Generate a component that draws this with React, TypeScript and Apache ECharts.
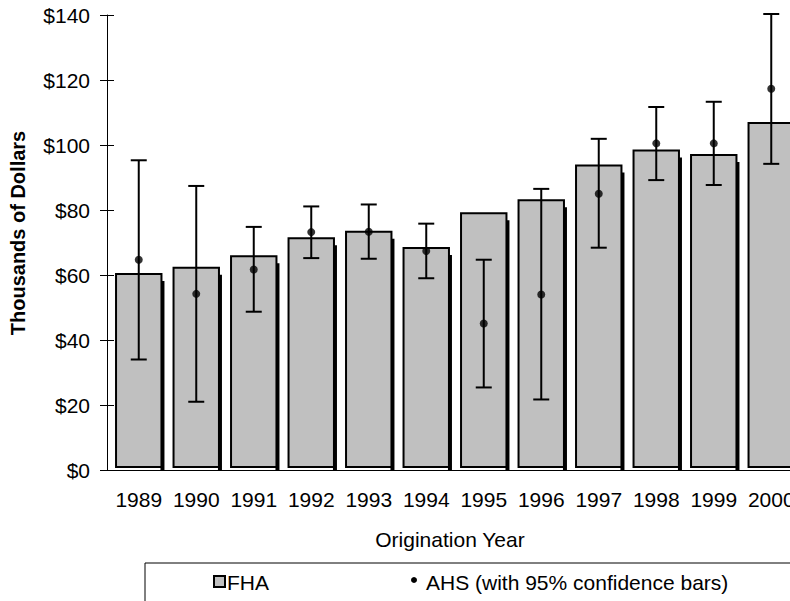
import React, { useEffect, useRef } from "react";
import * as echarts from "echarts";

const years = ["1989", "1990", "1991", "1992", "1993", "1994", "1995", "1996", "1997", "1998", "1999", "2000"];
const fhaValues = [60.3, 62.2, 65.8, 71.3, 73.3, 68.3, 79.0, 83.0, 93.7, 98.3, 96.9, 106.8];
const ahsValues = [64.7, 54.2, 61.7, 73.2, 73.3, 67.4, 45.1, 54.0, 85.0, 100.5, 100.5, 117.3];
const ahsLower = [34.0, 21.0, 48.7, 65.2, 65.0, 59.0, 25.4, 21.7, 68.4, 89.2, 87.7, 94.2];
const ahsUpper = [95.3, 87.4, 74.8, 81.1, 81.7, 75.8, 64.7, 86.5, 101.9, 111.7, 113.3, 140.3];
const yMin = 0;
const yMax = 140;
const yStep = 20;

const FONT = "'Liberation Sans', Arial, sans-serif";
const FS = 21;

export default function App() {
  const ref = useRef<HTMLDivElement>(null);
  useEffect(() => {
    if (!ref.current) return;
    const chart = echarts.init(ref.current, null, { renderer: "svg" });
    const barData = fhaValues.map((v, i) => [i, v]);
    const errData = years.map((_, i) => [i, ahsLower[i], ahsUpper[i]]);
    const ptData = ahsValues.map((v, i) => [i, v]);
    chart.setOption({
      animation: false,
      textStyle: { fontFamily: FONT },
      grid: { left: 110, width: 690, top: 15, height: 455, containLabel: false, outerBoundsMode: "none" },
      xAxis: {
        type: "category",
        data: years,
        axisLine: { lineStyle: { color: "#000", width: 1 } },
        axisTick: { show: false },
        axisLabel: { color: "#000", fontSize: FS, margin: 19, interval: 0, fontFamily: FONT, hideOverlap: false },
      },
      yAxis: [
        {
          type: "value",
          min: yMin,
          max: yMax,
          interval: yStep,
          offset: 3,
          axisLine: { show: true, lineStyle: { color: "#000", width: 1 } },
          axisTick: { show: true, length: 7, lineStyle: { color: "#000" } },
          axisLabel: { color: "#000", fontSize: FS, margin: 17, formatter: "${value}", fontFamily: FONT },
          splitLine: { show: false },
        },
        {
          type: "value",
          position: "left",
          min: yMin,
          max: yMax,
          interval: yStep,
          offset: 3,
          axisLine: { show: false },
          axisTick: { show: true, inside: true, length: 7, lineStyle: { color: "#000" } },
          axisLabel: { show: false },
          splitLine: { show: false },
        },
      ],
      series: [
        {
          name: "FHA",
          type: "custom",
          data: barData,
          clip: false,
          renderItem: (params: any, api: any) => {
            const idx = api.value(0);
            const base = api.coord([idx, 0]);
            const top = api.coord([idx, api.value(1)]);
            const w = api.size([1, 0])[0] * 0.79;
            const x = top[0] - w / 2;
            return {
              type: "group",
              children: [
                {
                  type: "rect",
                  shape: { x: x + w - 1, y: top[1] + 7, width: 4, height: base[1] - top[1] - 7 },
                  style: { fill: "#000" },
                },
                {
                  type: "rect",
                  shape: { x: x, y: top[1], width: w, height: base[1] - top[1] - 3 },
                  style: { fill: "#C0C0C0", stroke: "#000", lineWidth: 2 },
                },
              ],
            };
          },
        },
        {
          name: "AHS",
          type: "custom",
          data: errData,
          clip: false,
          renderItem: (params: any, api: any) => {
            const idx = api.value(0);
            const lo = api.coord([idx, api.value(1)]);
            const hi = api.coord([idx, api.value(2)]);
            const hw = 8;
            const st = { stroke: "#000", lineWidth: 2 };
            return {
              type: "group",
              children: [
                { type: "line", shape: { x1: lo[0], y1: lo[1], x2: hi[0], y2: hi[1] }, style: st },
                { type: "line", shape: { x1: hi[0] - hw, y1: hi[1], x2: hi[0] + hw, y2: hi[1] }, style: st },
                { type: "line", shape: { x1: lo[0] - hw, y1: lo[1], x2: lo[0] + hw, y2: lo[1] }, style: st },
              ],
            };
          },
        },
        {
          name: "AHS point",
          type: "scatter",
          data: ptData,
          symbol: "circle",
          symbolSize: 8,
          itemStyle: { color: "#000" },
          z: 5,
        },
      ],
      graphic: [
        {
          type: "text",
          x: 18,
          y: 233,
          rotation: Math.PI / 2,
          style: {
            text: "Thousands of Dollars",
            fontSize: 20,
            fontWeight: "bold",
            fontFamily: FONT,
            fill: "#000",
            align: "center",
            verticalAlign: "middle",
          },
        },
        {
          type: "text",
          x: 450,
          y: 539,
          style: {
            text: "Origination Year",
            fontSize: FS,
            fontFamily: FONT,
            fill: "#000",
            align: "center",
            verticalAlign: "middle",
          },
        },
        {
          type: "rect",
          shape: { x: 145, y: 563, width: 700, height: 80 },
          style: { fill: "none", stroke: "#000", lineWidth: 1 },
        },
        {
          type: "rect",
          shape: { x: 214, y: 576, width: 11, height: 11 },
          style: { fill: "#C0C0C0", stroke: "#000", lineWidth: 2 },
        },
        {
          type: "text",
          x: 227,
          y: 582,
          style: { text: "FHA", fontSize: FS, fontFamily: FONT, fill: "#000", verticalAlign: "middle" },
        },
        {
          type: "circle",
          shape: { cx: 414, cy: 580, r: 3 },
          style: { fill: "#000" },
        },
        {
          type: "text",
          x: 426,
          y: 582,
          style: {
            text: "AHS (with 95% confidence bars)",
            fontSize: FS,
            fontFamily: FONT,
            fill: "#000",
            verticalAlign: "middle",
          },
        },
      ],
    });
    return () => chart.dispose();
  }, []);
  return (
    <div
      ref={ref}
      style={{ position: "fixed", left: 0, top: 0, width: 790, height: 601, background: "#fff" }}
    />
  );
}
